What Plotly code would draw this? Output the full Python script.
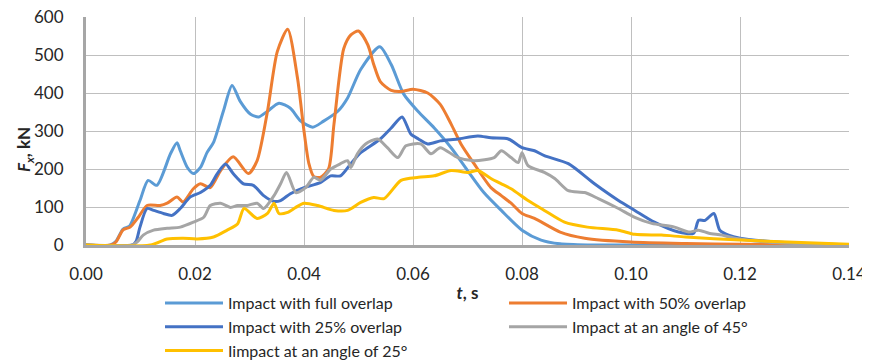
import plotly.graph_objects as go

# ---- data ----
full_t = [0, 0.0045, 0.0055, 0.0068, 0.008, 0.0099, 0.0114, 0.013, 0.0155, 0.0167,
          0.0173, 0.0186, 0.0197, 0.021, 0.0222, 0.0234, 0.0252, 0.0268, 0.0283, 0.0302,
          0.0317, 0.0333, 0.0354, 0.0375, 0.0394, 0.0416, 0.0436, 0.0462, 0.048, 0.0504,
          0.0539, 0.056, 0.0583, 0.0609, 0.0639, 0.067, 0.070, 0.073, 0.0762, 0.080,
          0.0835, 0.087, 0.092, 0.10, 0.12, 0.14]
full_F = [0, 0, 10, 42, 50, 117, 170, 157, 240, 269,
          248, 204, 188, 204, 243, 270, 352, 420, 378, 344,
          337, 352, 373, 360, 326, 310, 326, 352, 387, 462,
          522, 475, 397, 352, 308, 256, 196, 138, 91, 39,
          13, 3, 0, 0, 0, 0]

o50_t = [0, 0.0045, 0.0055, 0.0068, 0.0081, 0.0096, 0.0112, 0.0136, 0.0149, 0.0167,
         0.0178, 0.0197, 0.021, 0.0228, 0.0247, 0.027, 0.0298, 0.0314, 0.0333, 0.0351,
         0.037, 0.0388, 0.040, 0.0409, 0.0418, 0.043, 0.0445, 0.0455, 0.0473, 0.0486,
         0.050, 0.0517, 0.0528, 0.054, 0.056, 0.0578, 0.060, 0.0627, 0.065, 0.067,
         0.0688, 0.0712, 0.0743, 0.0762, 0.078, 0.080, 0.0823, 0.087, 0.0915, 0.10,
         0.11, 0.12, 0.14]
o50_F = [0, 0, 8, 40, 47, 73, 104, 104, 110, 126,
         113, 148, 161, 151, 196, 232, 188, 222, 352, 509,
         568, 440, 300, 214, 180, 178, 200, 318, 517, 553,
         563, 527, 475, 430, 407, 404, 410, 400, 370, 318,
         266, 214, 151, 130, 110, 83, 70, 34, 18, 8,
         4, 2, 0]

o25_t = [0, 0.0085, 0.0092, 0.0099, 0.0112, 0.0124, 0.0142, 0.0158, 0.0173, 0.0191,
         0.021, 0.0228, 0.0241, 0.0256, 0.027, 0.0289, 0.0307, 0.0326, 0.0344, 0.0357,
         0.0375, 0.040, 0.043, 0.0449, 0.0467, 0.0486, 0.0504, 0.0517, 0.054, 0.056,
         0.058, 0.0596, 0.061, 0.0627, 0.065, 0.0682, 0.0719, 0.0743, 0.0775, 0.080,
         0.0823, 0.0841, 0.0885, 0.0933, 0.0977, 0.1007, 0.1043, 0.1087, 0.1115, 0.1124,
         0.1136, 0.1152, 0.1163, 0.1179, 0.12, 0.125, 0.13, 0.14]
o25_F = [0, 0, 10, 47, 96, 91, 83, 78, 96, 126,
         138, 157, 188, 213, 188, 161, 157, 130, 115, 117,
         135, 151, 164, 182, 182, 214, 243, 256, 279, 308,
         337, 292, 279, 266, 274, 279, 287, 282, 279, 256,
         248, 235, 214, 161, 117, 91, 60, 34, 31, 65,
         65, 83, 39, 26, 18, 10, 5, 0]

a45_t = [0, 0.0085, 0.0094, 0.0105, 0.0124, 0.0149, 0.0173, 0.0197, 0.0216, 0.0228,
         0.0247, 0.0265, 0.0278, 0.0296, 0.0314, 0.0326, 0.0345, 0.0357, 0.0368, 0.0385,
         0.0403, 0.0418, 0.043, 0.0449, 0.0467, 0.048, 0.0486, 0.0498, 0.0513, 0.0535,
         0.0553, 0.0572, 0.0587, 0.0614, 0.0633, 0.065, 0.0682, 0.0712, 0.0749, 0.0762,
         0.078, 0.0793, 0.080, 0.0811, 0.0841, 0.086, 0.0885, 0.0915, 0.094, 0.0977,
         0.1007, 0.1038, 0.108, 0.1106, 0.1124, 0.1143, 0.1167, 0.119, 0.125, 0.13,
         0.14]
a45_F = [0, 0, 8, 26, 39, 44, 47, 60, 73, 104,
         110, 99, 104, 104, 110, 96, 130, 161, 191, 138,
         151, 178, 170, 200, 214, 222, 204, 240, 266, 279,
         256, 230, 261, 266, 240, 256, 230, 222, 230, 248,
         230, 217, 243, 209, 191, 175, 143, 138, 122, 96,
         73, 57, 47, 34, 39, 31, 26, 18, 8, 4,
         0]

a25_t = [0, 0.0118, 0.0149, 0.0178, 0.0204, 0.0234, 0.0259, 0.0278, 0.029, 0.0314,
         0.0333, 0.0345, 0.0354, 0.037, 0.0385, 0.040, 0.0425, 0.0455, 0.048, 0.0504,
         0.0528, 0.0547, 0.0578, 0.061, 0.0639, 0.067, 0.0701, 0.0719, 0.0743, 0.0762,
         0.078, 0.0811, 0.0841, 0.0878, 0.092, 0.0977, 0.1007, 0.1056, 0.11, 0.12,
         0.13, 0.14]
a25_F = [0, 0, 16, 18, 16, 21, 39, 55, 96, 70,
         83, 110, 83, 86, 99, 110, 104, 91, 91, 112,
         125, 122, 170, 178, 182, 196, 191, 196, 175, 161,
         148, 117, 91, 60, 47, 39, 28, 26, 21, 13,
         7, 2]

series_names = ["Impact with full overlap", "Impact with 50% overlap",
                "Impact with 25% overlap", "Impact at an angle of 45°",
                "Iimpact at an angle of 25°"]
series_colors = ["#5B9BD5", "#ED7D31", "#4472C4", "#A5A5A5", "#FFC000"]
series_data = [(full_t, full_F), (o50_t, o50_F), (o25_t, o25_F),
               (a45_t, a45_F), (a25_t, a25_F)]

x_ticks = [0.00, 0.02, 0.04, 0.06, 0.08, 0.10, 0.12, 0.14]
y_ticks = [0, 100, 200, 300, 400, 500, 600]

FONT = "Lato, 'Open Sans', sans-serif"

fig = go.Figure()
for name, color, (t, F) in zip(series_names, series_colors, series_data):
    fig.add_trace(go.Scatter(
        x=t, y=F, mode="lines", name=name,
        line=dict(color=color, width=3, shape="spline", smoothing=0.7),
    ))

fig.update_layout(
    width=870, height=360,
    margin=dict(l=78, r=29, t=9, b=123, autoexpand=False),
    paper_bgcolor="white", plot_bgcolor="white",
    font=dict(family=FONT, size=16, color="#262626"),
    showlegend=True,
    legend=dict(
        orientation="h", x=0.097, xanchor="left", y=-0.18, yanchor="top",
        entrywidth=271, entrywidthmode="pixels", itemwidth=58,
        font=dict(family=FONT, size=16, color="#262626"),
        tracegroupgap=0, bgcolor="rgba(0,0,0,0)",
    ),
    annotations=[dict(
        text="<b><i>F<sub>x</sub></i>, kN</b>", textangle=-90,
        xref="paper", yref="paper", x=-0.079, y=0.42,
        xanchor="center", yanchor="middle", showarrow=False,
        font=dict(family=FONT, size=17, color="#262626"),
    )],
)

fig.update_xaxes(
    range=[0, 0.14], tickvals=x_ticks, tickformat=".2f",
    showgrid=True, gridcolor="#BFBFBF", gridwidth=1,
    showline=True, linecolor="#A6A6A6", linewidth=3,
    zeroline=False, ticks="outside", ticklen=12, tickcolor="rgba(0,0,0,0)",
    ticklabeloverflow="allow",
    tickfont=dict(family=FONT, size=17, color="#262626"),
    title=dict(text="<b><i>t</i>, s</b>", standoff=4,
               font=dict(family=FONT, size=17, color="#262626")),
)
fig.update_yaxes(
    range=[0, 600], tickvals=y_ticks,
    showgrid=True, gridcolor="#BFBFBF", gridwidth=1,
    showline=True, linecolor="#A6A6A6", linewidth=3,
    zeroline=False, ticks="outside", ticklen=16, tickcolor="rgba(0,0,0,0)",
    ticklabeloverflow="allow",
    tickfont=dict(family=FONT, size=17, color="#262626"),
)

fig.write_html("out.html")
